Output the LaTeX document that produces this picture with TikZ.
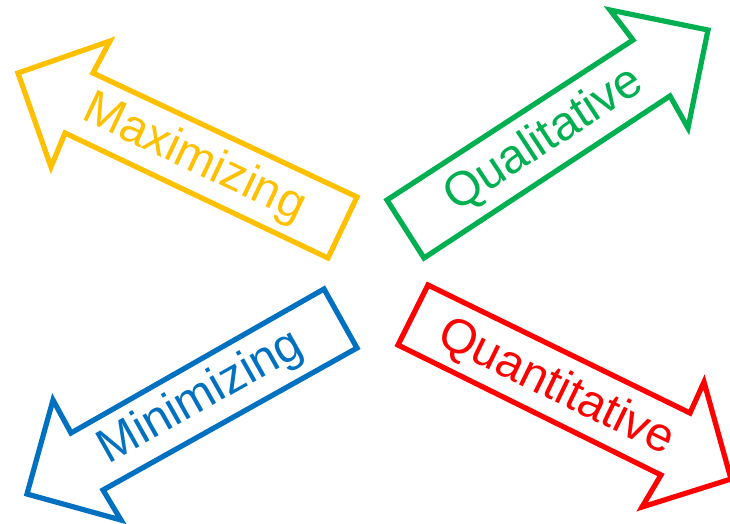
\documentclass[tikz,border=0pt]{standalone}
\usepackage{fontspec}
\setmainfont{Liberation Sans}
\definecolor{maxyellow}{HTML}{FFC000}
\definecolor{qualgreen}{HTML}{00B050}
\definecolor{minblue}{HTML}{0070C0}
\definecolor{quantred}{HTML}{FF0000}
\tikzset{
  outlinearrow/.style={line width=5.2pt, line join=miter, fill=none},
  arrowlabel/.style={font=\fontsize{48}{56}\selectfont, inner sep=0pt, anchor=center}
}
\begin{document}
\begin{tikzpicture}[x=1pt, y=-1pt]
\useasboundingbox (0,0) rectangle (730,523);

% Maximizing: block arrow pointing up-left
\draw[outlinearrow, maxyellow]
  (328,258) -- (357,197) -- (93,73) -- (110,41) -- (18,73)
  -- (51,167) -- (65,133) -- cycle;
\node[arrowlabel, text=maxyellow, rotate=-25.3] (maxlabel) at (194,159) {Maximizing};

% Qualitative: block arrow pointing up-right
\draw[outlinearrow, qualgreen]
  (387,200) -- (633,40) -- (610,10) -- (708,30)
  -- (688,128) -- (670,96) -- (424,258) -- cycle;
\node[arrowlabel, text=qualgreen, rotate=33.2] (quallabel) at (544,140) {Qualitative};

% Minimizing: block arrow pointing down-left
\draw[outlinearrow, minblue]
  (324,289) -- (71,433) -- (53,400) -- (27,494)
  -- (121,520) -- (103,490) -- (357,348) -- cycle;
\node[arrowlabel, text=minblue, rotate=29.4] (minlabel) at (201,398) {Minimizing};

% Quantitative: block arrow pointing down-right
\draw[outlinearrow, quantred]
  (428,285) -- (690,413) -- (704,382) -- (731,479)
  -- (642,507) -- (661,475) -- (398,345) -- cycle;
\node[arrowlabel, text=quantred, rotate=-26.0] (quantlabel) at (556,388) {Quantitative};
\end{tikzpicture}
\end{document}
